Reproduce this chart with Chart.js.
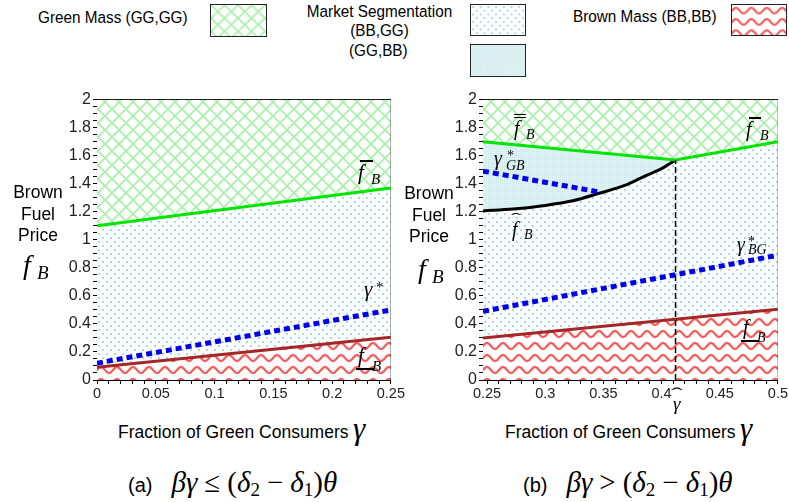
<!DOCTYPE html>
<html><head><meta charset="utf-8">
<script src="https://cdn.jsdelivr.net/npm/chart.js@4.4.0/dist/chart.umd.min.js"></script>
<style>
html,body{margin:0;padding:0;background:#fff;}
#wrap{position:relative;width:789px;height:502px;overflow:hidden;font-family:"Liberation Sans",Arial,sans-serif;color:#000;background:#fff;}
.abs{position:absolute;white-space:nowrap;line-height:1;}
.leg{font-size:15.3px;transform:scale(1,1.12);transform-origin:0 0;}
.sw{position:absolute;border:1.5px solid #222;box-sizing:border-box;}
.ytitle{position:absolute;font-size:17.5px;text-align:center;line-height:20px;width:60px;transform:scale(1,1.08);transform-origin:50% 0;}
.mf{position:absolute;font-family:"Liberation Serif","DejaVu Serif",serif;font-style:italic;line-height:1;white-space:nowrap;}
.up{font-style:normal;}
.bar{position:absolute;height:1.5px;background:#000;}
.dbar{position:absolute;height:2px;border-top:1.3px solid #000;border-bottom:1.3px solid #000;}
.hat{position:absolute;font-family:"Liberation Serif",serif;font-style:normal;line-height:1;transform-origin:0 0;}
.xt{position:absolute;font-size:17.5px;line-height:20px;white-space:nowrap;transform:scale(1,1.08);transform-origin:0 0;}
.sub{position:absolute;line-height:30px;height:30px;white-space:nowrap;}
.sm{font-family:'Liberation Serif',serif;font-size:29px;margin-left:19px;}
.sm sub{font-size:19px;vertical-align:-4px;line-height:0;}
.sp{display:inline-block;width:7px;}
canvas{position:absolute;}
</style></head>
<body>
<div id="wrap">
  <!-- legend -->
  <div class="abs leg" style="left:38px;top:8px">Green Mass (GG,GG)</div>
  <canvas id="swG" class="sw" width="57" height="33" style="left:210px;top:4px;width:57px;height:33px"></canvas>
  <div class="abs leg" style="left:305px;top:1px;width:149px;text-align:center;line-height:17px">Market Segmentation<br>(BB,GG)</div>
  <canvas id="swD" class="sw" width="56" height="32" style="left:470px;top:4px;width:56px;height:32px"></canvas>
  <div class="abs leg" style="left:349px;top:41px">(GG,BB)</div>
  <canvas id="swC" class="sw" width="56" height="33" style="left:470px;top:44px;width:56px;height:33px"></canvas>
  <div class="abs leg" style="left:573px;top:7px">Brown Mass (BB,BB)</div>
  <canvas id="swR" class="sw" width="56" height="32" style="left:731px;top:4px;width:56px;height:32px"></canvas>

  <!-- charts -->
  <canvas id="cA" width="357" height="322" style="left:49px;top:88px;width:357px;height:322px"></canvas>
  <canvas id="cB" width="354" height="322" style="left:435px;top:88px;width:354px;height:322px"></canvas>

  <!-- y titles -->
  <div class="ytitle" style="left:8px;top:181px">Brown<br>Fuel<br>Price</div>
  <span class="mf" style="left:23px;top:251px;font-size:28px">f</span>
  <span class="mf" style="left:37px;top:263px;font-size:19px">B</span>
  <div class="ytitle" style="left:399px;top:182px">Brown<br>Fuel<br>Price</div>
  <span class="mf" style="left:418px;top:255px;font-size:28px">f</span>
  <span class="mf" style="left:432px;top:267px;font-size:19px">B</span>

  <!-- x titles -->
  <div class="xt" style="left:118px;top:421px">Fraction of Green Consumers</div>
  <span class="mf" style="left:353px;top:413px;font-size:31px">γ</span>
  <div class="xt" style="left:505px;top:421px">Fraction of Green Consumers</div>
  <span class="mf" style="left:740px;top:413px;font-size:31px">γ</span>

  <!-- gamma hat below right axis -->
  <span class="hat" style="left:671px;top:386px;font-size:16px;transform:scale(2.2,1)">ˆ</span>
  <span class="mf" style="left:673px;top:394px;font-size:19px">γ</span>

  <!-- left panel labels -->
  <span class="bar" style="left:360px;top:160px;width:13px"></span>
  <span class="mf" style="left:358px;top:162px;font-size:21px">f</span>
  <span class="mf" style="left:371px;top:172px;font-size:15px">B</span>

  <span class="mf" style="left:364px;top:279px;font-size:21px">γ</span>
  <span class="mf up" style="left:376px;top:280px;font-size:15px">*</span>

  <span class="mf" style="left:358px;top:345px;font-size:21px">f</span>
  <span class="bar" style="left:356px;top:368px;width:18px"></span>
  <span class="mf" style="left:372px;top:359px;font-size:15px">B</span>

  <!-- right panel labels -->
  <span class="dbar" style="left:514px;top:114px;width:12px"></span>
  <span class="mf" style="left:514px;top:118px;font-size:20px">f</span>
  <span class="mf" style="left:526px;top:128px;font-size:14px">B</span>

  <span class="bar" style="left:749px;top:117px;width:12px"></span>
  <span class="mf" style="left:746px;top:119px;font-size:20px">f</span>
  <span class="mf" style="left:760px;top:129px;font-size:14px">B</span>

  <span class="mf" style="left:494px;top:148px;font-size:20px">γ</span>
  <span class="mf up" style="left:507px;top:149px;font-size:14px">*</span>
  <span class="mf" style="left:506px;top:159px;font-size:14px">GB</span>

  <span class="hat" style="left:511px;top:211px;font-size:15px;transform:scale(2,1)">ˆ</span>
  <span class="mf" style="left:512px;top:219px;font-size:20px">f</span>
  <span class="mf" style="left:524px;top:228px;font-size:14px">B</span>

  <span class="mf" style="left:737px;top:234px;font-size:20px">γ</span>
  <span class="mf up" style="left:748px;top:235px;font-size:14px">*</span>
  <span class="mf" style="left:748px;top:243px;font-size:14px">BG</span>

  <span class="mf" style="left:743px;top:317px;font-size:20px">f</span>
  <span class="bar" style="left:741px;top:340px;width:18px"></span>
  <span class="mf" style="left:757px;top:331px;font-size:14px">B</span>

  <!-- subtitles -->
  <div class="sub" style="left:128px;top:467px"><span style="font-size:20px">(a)</span><span class="sm"><i>βγ</i><span class="sp"></span>≤<span class="sp"></span>(<i>δ</i><sub>2</sub><span class="sp"></span>−<span class="sp"></span><i>δ</i><sub>1</sub>)<i>θ</i></span></div>
  <div class="sub" style="left:523px;top:467px"><span style="font-size:20px">(b)</span><span class="sm"><i>βγ</i><span class="sp"></span>&gt;<span class="sp"></span>(<i>δ</i><sub>2</sub><span class="sp"></span>−<span class="sp"></span><i>δ</i><sub>1</sub>)<i>θ</i></span></div>
</div>

<script>
// ---------------- data ----------------
// panel (a)
const gammaA      = [0, 0.25];
const fUpperA     = [1.10, 1.37];   // f-bar_B
const gammaStarA  = [0.12, 0.50];   // gamma*
const fLowerA     = [0.09, 0.305];  // f_B (lower)

// panel (b)
const gammaUpperB = [0.2465, 0.412, 0.5];
const fUpperB     = [1.70, 1.57, 1.70];           // double-bar f / bar f
const gammaHatB   = [0.2465, 0.2724, 0.298, 0.3236, 0.3464, 0.369, 0.386, 0.400, 0.412];
const fHatB       = [1.206, 1.219, 1.243, 1.278, 1.332, 1.39, 1.456, 1.508, 1.569]; // f-hat_B
const gammaGBx    = [0.2465, 0.347];
const gammaGBy    = [1.49, 1.34];                 // gamma*_GB
const gammaBGx    = [0.2465, 0.5];
const gammaBGy    = [0.49, 0.89];                 // gamma*_BG
const gammaLowB   = [0.2465, 0.5];
const fLowerB     = [0.30, 0.505];                // f_B (lower)
const gammaHatVal = [0.412, 0.412];
const gammaHatLine= [0, 1.569];

// tick labels
const yTickLabels  = ['0','0.2','0.4','0.6','0.8','1','1.2','1.4','1.6','1.8','2'];
const xTickLabelsA = ['0','0.05','0.1','0.15','0.2','0.25'];
const xTickLabelsB = ['0.25','0.3','0.35','0.4','0.45','0.5'];

// ---------------- patterns ----------------
function tile(w,h,draw){const c=document.createElement('canvas');c.width=w;c.height=h;const g=c.getContext('2d');g.fillStyle='#fff';g.fillRect(0,0,w,h);draw(g,w,h);return c;}
const tGreen = tile(14,14,(g,w,h)=>{
  g.strokeStyle='rgb(170,240,170)';g.lineWidth=1.8;
  for(const dx of [-w,0,w]){g.beginPath();g.moveTo(dx,0);g.lineTo(dx+w,h);g.moveTo(dx+w,0);g.lineTo(dx,h);g.stroke();}
});
const tDots = tile(8,8,(g)=>{
  g.fillStyle='rgb(168,218,224)';
  g.fillRect(1,1,2,2);g.fillRect(5,5,2,2);
});
const tDense = tile(4,4,(g)=>{
  g.fillStyle='rgb(212,236,238)';g.fillRect(0,0,4,4);
  g.fillStyle='rgb(240,249,250)';g.fillRect(0,0,1,1);g.fillRect(2,2,1,1);g.fillRect(2,0,1,1);g.fillRect(0,2,1,1);
});
const tRed = tile(16,12,(g,w,h)=>{
  g.strokeStyle='rgb(245,95,95)';g.lineWidth=2.3;g.beginPath();
  for(let x=-2;x<=w+2;x+=0.5){const y=6-3*Math.sin(2*Math.PI*x/w); if(x===-2)g.moveTo(x,y); else g.lineTo(x,y);}
  g.stroke();
});
function pat(ctx,t){return ctx.createPattern(t,'repeat');}

function swatch(id,t){const c=document.getElementById(id);const g=c.getContext('2d');g.fillStyle=pat(g,t);g.fillRect(0,0,c.width,c.height);}
swatch('swG',tGreen);swatch('swD',tDots);swatch('swC',tDense);swatch('swR',tRed);

// ---------------- helpers ----------------
const pts=(xs,ys)=>xs.map((x,i)=>({x:x,y:ys[i]}));
function tickSet(labels,minorStep,lo,hi){
  const major=labels.map(Number);
  const all=major.slice();
  for(let k=Math.ceil(lo/minorStep-1e-9);k*minorStep<=hi+1e-9;k++){const v=+(k*minorStep).toFixed(6);if(!major.some(m=>Math.abs(m-v)<1e-9))all.push(v);}
  all.sort((a,b)=>a-b);
  return {major,labels,all};
}
function labelFor(ts,v){for(let i=0;i<ts.major.length;i++){if(Math.abs(ts.major[i]-v)<1e-9)return ts.labels[i];}return '';}

function scalesFor(xmin,xmax,xts,yts){
  const common={grid:{display:true,drawOnChartArea:false,drawTicks:true,tickLength:4,color:'#000',lineWidth:1},border:{display:true,color:'#000',width:1},z:1};
  return {
    x:Object.assign({},common,{type:'linear',position:'bottom',min:xmin,max:xmax,
      afterBuildTicks:s=>{s.ticks=xts.all.filter(v=>v>=xmin-1e-9&&v<=xmax+1e-9).map(v=>({value:v}));},
      afterFit:s=>{s.height=30;},
      ticks:{autoSkip:false,maxRotation:0,minRotation:0,padding:1,color:'#222',font:{family:'Liberation Sans',size:14.5},callback:v=>labelFor(xts,v)}}),
    y:Object.assign({},common,{type:'linear',position:'left',min:0,max:2,
      afterBuildTicks:s=>{s.ticks=yts.all.map(v=>({value:v}));},
      afterFit:s=>{s.width=48;},
      ticks:{autoSkip:false,padding:2,color:'#222',font:{family:'Liberation Sans',size:16},callback:v=>labelFor(yts,v)}}),
    x2:{type:'linear',position:'top',min:xmin,max:xmax,display:true,grid:{display:false,drawTicks:false},ticks:{display:false},border:{display:true,color:'#000',width:1},afterFit:s=>{s.height=0;},z:1},
    y2:{type:'linear',position:'right',min:0,max:2,display:true,grid:{display:false,drawTicks:false},ticks:{display:false},border:{display:true,color:'#000',width:1},afterFit:s=>{s.width=0;},z:1}
  };
}
const baseOpts=(scales,right)=>({responsive:false,animation:false,devicePixelRatio:1,
  layout:{autoPadding:false,padding:{top:10,right:right,left:0,bottom:0}},
  plugins:{legend:{display:false},tooltip:{enabled:false}},
  elements:{point:{radius:0}},
  scales:scales});

const GREEN='rgb(0,228,0)', BROWN='rgb(165,38,38)', BLUE='rgb(0,0,235)';

// ---------------- chart (a) ----------------
const yts=tickSet(yTickLabels,0.05,0,2);
const ctxA=document.getElementById('cA').getContext('2d');
new Chart(ctxA,{type:'line',data:{datasets:[
  {data:pts(gammaA,fUpperA),borderColor:GREEN,borderWidth:3,fill:'end',backgroundColor:pat(ctxA,tGreen),order:0},
  {data:pts(gammaA,fLowerA),borderColor:BROWN,borderWidth:3,fill:'start',backgroundColor:pat(ctxA,tRed),order:1},
  {data:pts(gammaA,fLowerA),borderWidth:0,borderColor:'rgba(0,0,0,0)',fill:{target:0},backgroundColor:pat(ctxA,tDots),order:10},
  {data:pts(gammaA,gammaStarA),borderColor:BLUE,borderWidth:5,borderDash:[6,4],fill:false,order:-1}
]},options:baseOpts(scalesFor(0,0.25,tickSet(xTickLabelsA,0.01,0,0.25),yts),10)});

// ---------------- chart (b) ----------------
const ctxB=document.getElementById('cB').getContext('2d');
new Chart(ctxB,{type:'line',data:{datasets:[
  {data:pts(gammaUpperB,fUpperB),borderColor:GREEN,borderWidth:3,fill:'end',backgroundColor:pat(ctxB,tGreen),order:0},
  {data:pts(gammaLowB,fLowerB),borderColor:BROWN,borderWidth:3,fill:'start',backgroundColor:pat(ctxB,tRed),order:1},
  {data:pts(gammaLowB,fLowerB),borderWidth:0,borderColor:'rgba(0,0,0,0)',fill:{target:0},backgroundColor:pat(ctxB,tDots),order:10},
  {data:pts(gammaHatB,fHatB),borderWidth:0,borderColor:'rgba(0,0,0,0)',cubicInterpolationMode:'monotone',fill:{target:0},backgroundColor:pat(ctxB,tDense),order:9},
  {data:pts(gammaHatB,fHatB),borderColor:'#000',borderWidth:3,cubicInterpolationMode:'monotone',fill:false,order:2},
  {data:pts(gammaGBx,gammaGBy),borderColor:BLUE,borderWidth:5,borderDash:[6,4],fill:false,order:-1},
  {data:pts(gammaBGx,gammaBGy),borderColor:BLUE,borderWidth:5,borderDash:[6,4],fill:false,order:-1},
  {data:pts(gammaHatVal,gammaHatLine),borderColor:'#000',borderWidth:1.5,borderDash:[6,3],fill:false,order:-2}
]},options:baseOpts(scalesFor(0.2465,0.5,tickSet(xTickLabelsB,0.01,0.25,0.5),yts),9)});
</script>
</body></html>
